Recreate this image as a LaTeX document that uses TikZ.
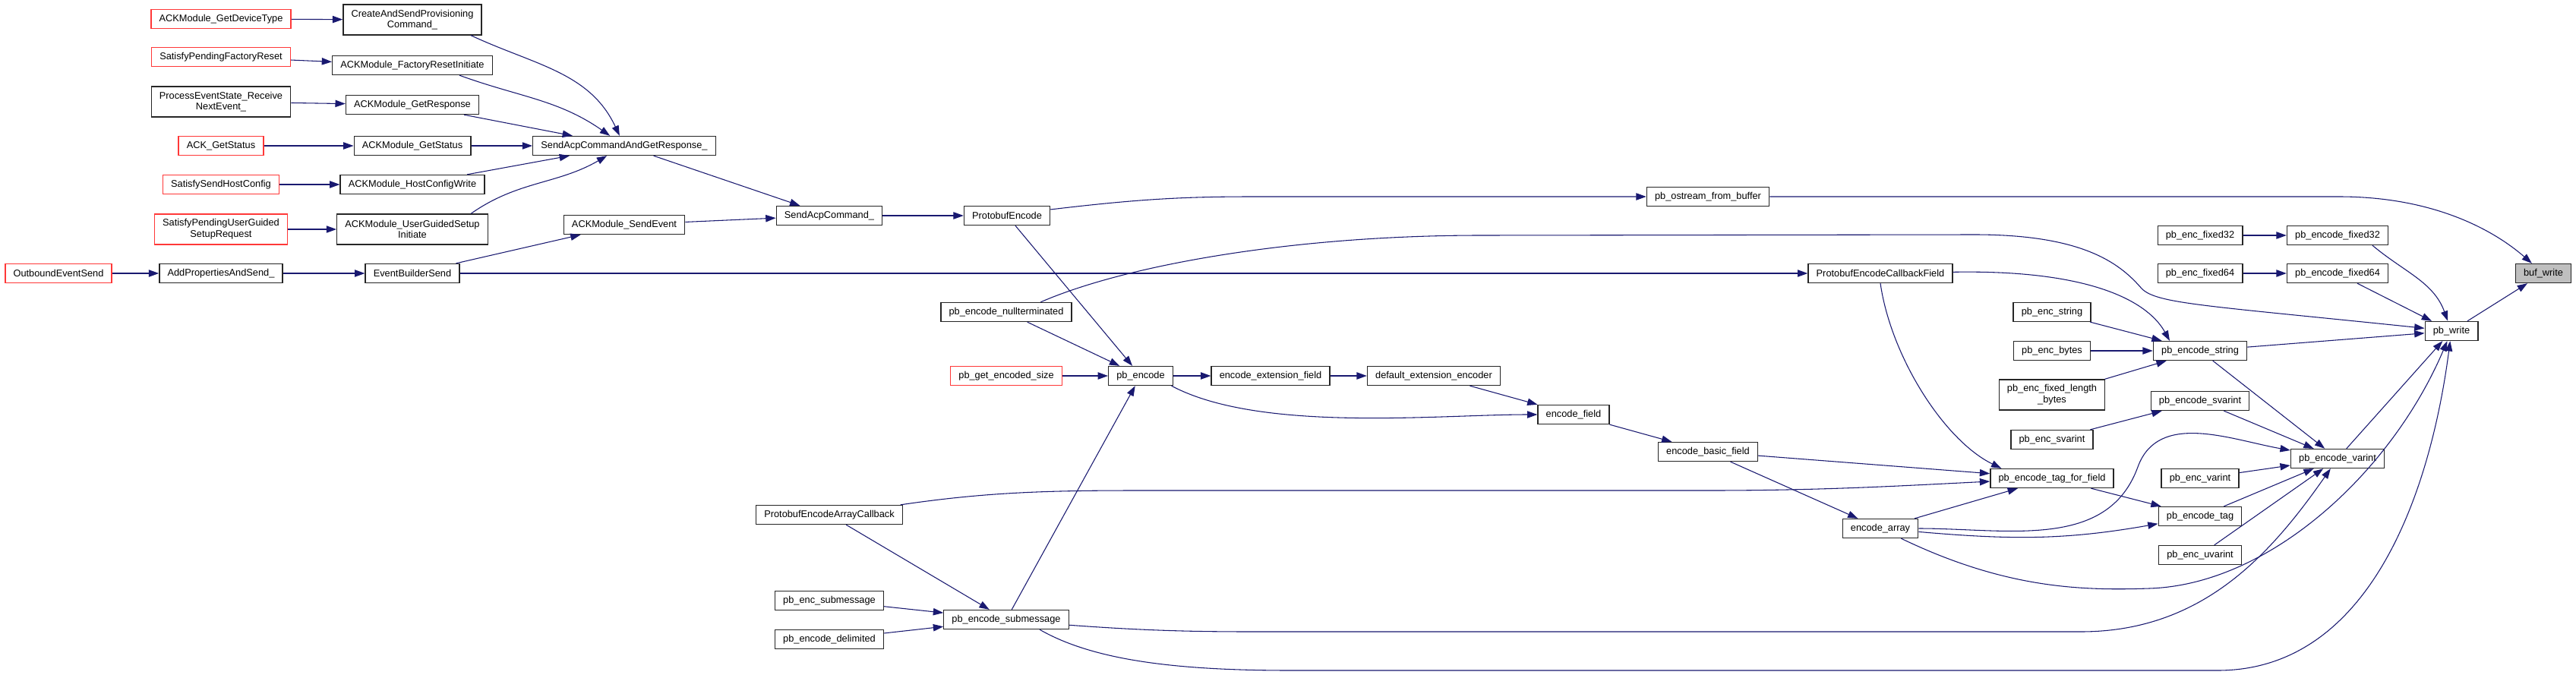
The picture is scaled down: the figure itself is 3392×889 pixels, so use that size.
\documentclass[tikz,border=0pt]{standalone}
\usepackage{fontspec}
\setmainfont{Liberation Sans}
\usepackage{xcolor}
\usepackage{tikz}
\usetikzlibrary{positioning,arrows.meta}
\definecolor{edgeblue}{HTML}{191970}
\definecolor{extred}{HTML}{FF3838}

\begin{document}
\begin{tikzpicture}[x=0.75pt, y=-0.75pt,
  font=\fontsize{9.6}{11}\selectfont,
  fn/.style={draw=black!85, line width=1pt, fill=white, minimum height=18.75pt, inner xsep=8pt, inner ysep=1pt, align=center},
  fn2/.style={fn, minimum height=30pt},
  ext/.style={fn, draw=extred},
  ext2/.style={fn2, draw=extred},
  self/.style={fn, fill=black!25},
  call/.style={->, draw=edgeblue, line width=0.8pt},
  >={Triangle[length=10pt,width=7pt]}]
\useasboundingbox (0,0) rectangle (3392,889);
% far left caller
\node[ext] (oes) at (77,360) {OutboundEventSend};
% first column of callers
\node[ext] (gdt) at (291,25) {ACKModule\_GetDeviceType};
\node[ext] (spfr) at (291,75) {SatisfyPendingFactoryReset};
\node[fn2] (pesr) at (291,134) {ProcessEventState\_Receive\\NextEvent\_};
\node[ext] (ags) at (291,192) {ACK\_GetStatus};
\node[ext] (sshc) at (291,243) {SatisfySendHostConfig};
\node[ext2] (spug) at (291,302) {SatisfyPendingUserGuided\\SetupRequest};
\node[fn] (apas) at (291,360) {AddPropertiesAndSend\_};
% ACKModule layer
\node[fn2] (casp) at (543,26) {CreateAndSendProvisioning\\Command\_};
\node[fn] (fri) at (543,86) {ACKModule\_FactoryResetInitiate};
\node[fn] (gresp) at (543,138) {ACKModule\_GetResponse};
\node[fn] (mgs) at (543,192) {ACKModule\_GetStatus};
\node[fn] (hcw) at (543,243) {ACKModule\_HostConfigWrite};
\node[fn2] (ugsi) at (543,302) {ACKModule\_UserGuidedSetup\\Initiate};
\node[fn] (ebs) at (543,360) {EventBuilderSend};
\node[fn] (sacr) at (822,192) {SendAcpCommandAndGetResponse\_};
\node[fn] (mse) at (822,296) {ACKModule\_SendEvent};
% protobuf entry points
\node[fn] (sac) at (1092,284) {SendAcpCommand\_};
\node[fn] (peac) at (1092,678) {ProtobufEncodeArrayCallback};
\node[fn] (encsub) at (1092,791) {pb\_enc\_submessage};
\node[fn] (encdel) at (1092,842) {pb\_encode\_delimited};
\node[fn] (protoenc) at (1326,284) {ProtobufEncode};
\node[fn] (pnt) at (1325,411) {pb\_encode\_nullterminated};
\node[ext] (pges) at (1325,495) {pb\_get\_encoded\_size};
\node[fn] (pesub) at (1325,816) {pb\_encode\_submessage};
\node[fn] (pbenc) at (1502,495) {pb\_encode};
\node[fn] (eef) at (1673,495) {encode\_extension\_field};
\node[fn] (dee) at (1888,495) {default\_extension\_encoder};
\node[fn] (ef) at (2072,546) {encode\_field};
\node[fn] (posb) at (2249,259) {pb\_ostream\_from\_buffer};
\node[fn] (ebf) at (2249,595) {encode\_basic\_field};
\node[fn] (pecf) at (2476,360) {ProtobufEncodeCallbackField};
\node[fn] (ea) at (2476,696) {encode\_array};
% pb_enc_* wrappers and writers
\node[fn] (encstr) at (2702,411) {pb\_enc\_string};
\node[fn] (encbytes) at (2702,462) {pb\_enc\_bytes};
\node[fn2] (encflb) at (2702,520) {pb\_enc\_fixed\_length\\\_bytes};
\node[fn] (encsv) at (2702,579) {pb\_enc\_svarint};
\node[fn] (tagff) at (2702,630) {pb\_encode\_tag\_for\_field};
\node[fn] (encf32) at (2897,310) {pb\_enc\_fixed32};
\node[fn] (encf64) at (2897,360) {pb\_enc\_fixed64};
\node[fn] (pestr) at (2897,462) {pb\_encode\_string};
\node[fn] (pesv) at (2897,528) {pb\_encode\_svarint};
\node[fn] (encv) at (2897,630) {pb\_enc\_varint};
\node[fn] (petag) at (2897,680) {pb\_encode\_tag};
\node[fn] (encuv) at (2897,731) {pb\_enc\_uvarint};
\node[fn] (pef32) at (3078,310) {pb\_encode\_fixed32};
\node[fn] (pef64) at (3078,360) {pb\_encode\_fixed64};
\node[fn] (pev) at (3078,604) {pb\_encode\_varint};
\node[fn] (pw) at (3228,436) {pb\_write};
\node[self] (bw) at (3349,360) {buf\_write};
% left callers
\draw[call] (gdt) -- (casp);
\draw[call] (spfr) -- (fri);
\draw[call] (pesr) -- (gresp);
\draw[call] (ags) -- (mgs);
\draw[call] (sshc) -- (hcw);
\draw[call] (spug) -- (ugsi);
\draw[call] (oes) -- (apas);
\draw[call] (apas) -- (ebs);
% into SendAcpCommandAndGetResponse_
\draw[call] (casp.-15) to[out=-25,in=115] (sacr);
\draw[call] (fri.-12) to[out=-20,in=145] (sacr);
\draw[call] (gresp) -- (sacr);
\draw[call] (mgs) -- (sacr);
\draw[call] (hcw) -- (sacr);
\draw[call] (ugsi.15) to[out=35,in=-150] (sacr);
% towards ProtobufEncode
\draw[call] (sacr) -- (sac);
\draw[call] (ebs) -- (mse);
\draw[call] (mse) -- (sac);
\draw[call] (sac) -- (protoenc);
\draw[call] (ebs) -- (pecf);
% pb_encode and friends
\draw[call] (protoenc) -- (pbenc);
\draw[call] (pnt) -- (pbenc);
\draw[call] (pges) -- (pbenc);
\draw[call] (pesub) -- (pbenc);
\draw[call] (pbenc) -- (eef);
\draw[call] (eef) -- (dee);
\draw[call] (dee) -- (ef);
\draw[call] (pbenc.-18) to[out=-28,in=180,looseness=0.7] (ef);
\draw[call] (peac) -- (pesub);
\draw[call] (encsub) -- (pesub);
\draw[call] (encdel) -- (pesub);
% field encoding
\draw[call] (ef) -- (ebf);
\draw[call] (ebf) -- (tagff);
\draw[call] (ebf) -- (ea);
\draw[call] (ea) -- (tagff);
\draw[call] (tagff) -- (petag);
\draw[call] (peac.8) .. controls (1300,648) and (1380,646) .. (1500,646) -- (2250,646) .. controls (2400,646) and (2500,640) .. (tagff);
\draw[call] (pecf.south) .. controls (2490,470) and (2560,580) .. ([xshift=-50pt]tagff.north);
\draw[call] (pecf) .. controls (2760,355) and (2830,400) .. ([xshift=-30pt]pestr.north);
\draw[call] (ea) to[out=0,in=-110] (2815,615) to[out=70,in=170] (pev);
\draw[call] (ea) to[out=-5,in=190] (petag);
\draw[call] (ea) .. controls (2640,775) and (2740,778) .. (2830,775) .. controls (2990,770) and (3150,620) .. (pw);
% string and varint encoders
\draw[call] (encstr) -- (pestr);
\draw[call] (encbytes) -- (pestr);
\draw[call] (encflb) -- (pestr);
\draw[call] (encsv) -- (pesv);
\draw[call] (pestr) -- (pev);
\draw[call] (pesv) -- (pev);
\draw[call] (encv) -- (pev);
\draw[call] (petag) -- (pev);
\draw[call] (encuv) -- (pev);
\draw[call] (pesub.-5) .. controls (1500,830) and (1560,832) .. (1650,832) -- (2740,832) .. controls (2900,832) and (2990,730) .. (pev);
% into pb_write and buf_write
\draw[call] (encf32) -- (pef32);
\draw[call] (encf64) -- (pef64);
\draw[call] (pef32.-16) to[out=-40,in=110] (pw);
\draw[call] (pef64) -- (pw);
\draw[call] (pestr) -- (pw);
\draw[call] (pev) -- (pw);
\draw[call] ([xshift=34pt]pnt.north) .. controls (1480,350) and (1700,310) .. (1950,310) -- (2600,309) .. controls (2740,309) and (2790,345) .. (2820,380) .. controls (2840,400) and (2900,402) .. (pw);
\draw[call] ([xshift=33pt]pesub.south) .. controls (1440,870) and (1550,883) .. (1700,883) -- (2920,883) .. controls (3120,883) and (3200,650) .. (pw);
\draw[call] (protoenc.8) .. controls (1500,262) and (1560,259) .. (1650,259) -- (posb);
\draw[call] (posb) -- (3080,259) .. controls (3200,259) and (3280,300) .. (bw);
\draw[call] (pw) -- (bw);
\end{tikzpicture}
\end{document}
